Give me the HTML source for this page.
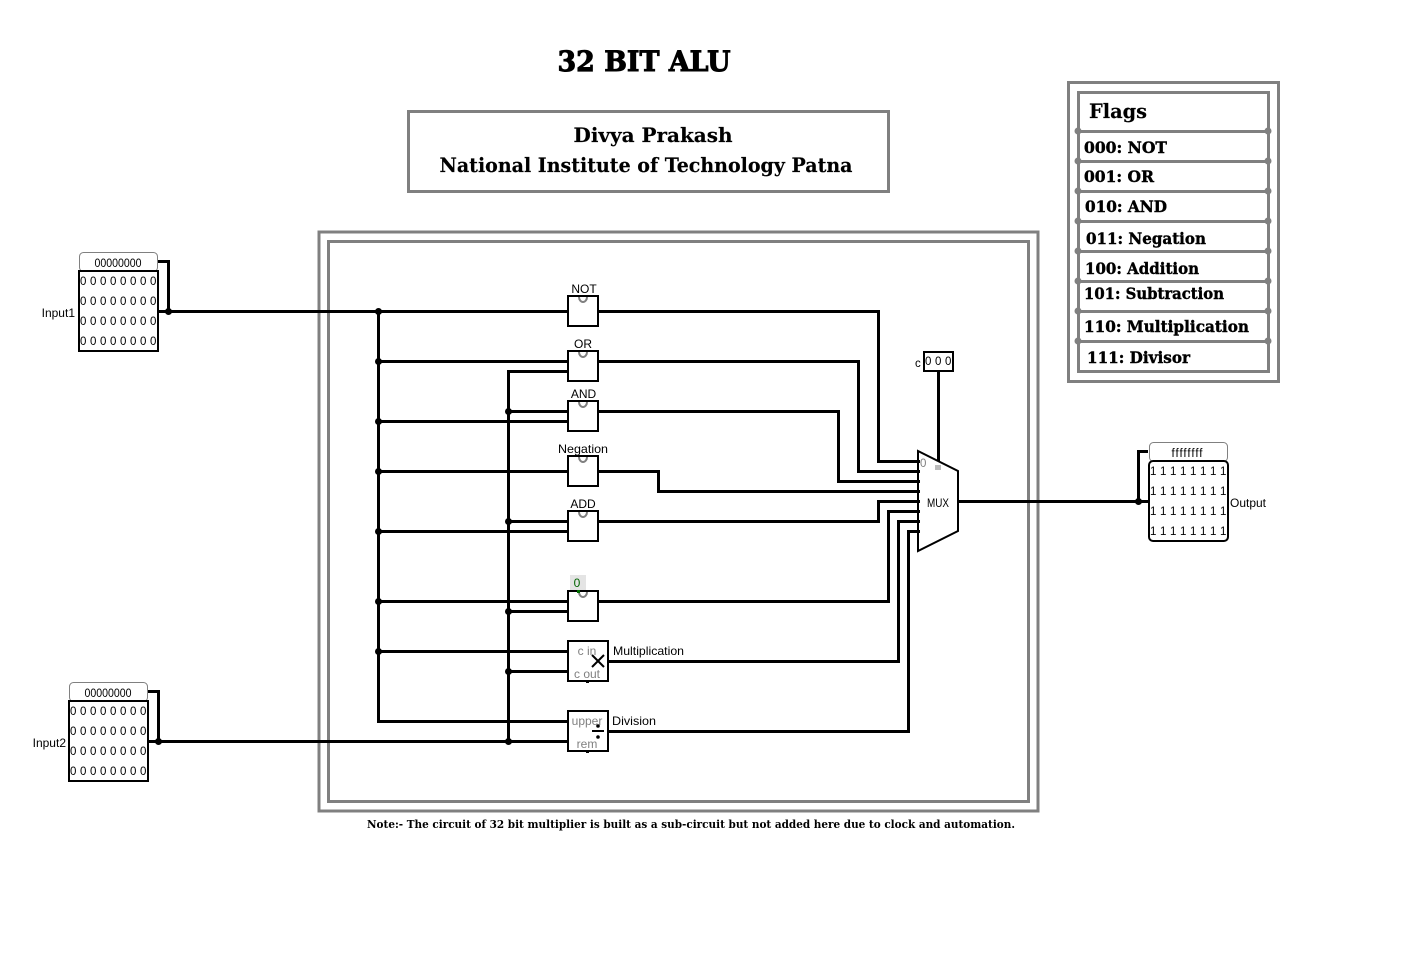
<!DOCTYPE html>
<html><head><meta charset="utf-8">
<style>
html,body{margin:0;padding:0;background:#fff;width:1411px;height:954px;overflow:hidden}
svg{display:block}
text{font-family:"Liberation Sans",sans-serif;fill:#000}
.s{font-family:"DejaVu Serif","Liberation Serif",serif;font-weight:bold}
.n{font-weight:bold;stroke:#000;stroke-width:.15}
.g{fill:#808080}
.l{font-size:12px}
.d{font-size:11.5px}
.w{fill:none;stroke:#000;stroke-width:3}
.f{fill:none;stroke:#808080;stroke-width:3}
.b{fill:#fff;stroke:#000;stroke-width:2}
.fl{font-size:15.5px;stroke:#000;stroke-width:.4}
</style></head><body>
<svg width="1411" height="954" viewBox="0 0 1411 954" xmlns="http://www.w3.org/2000/svg">
<rect width="1411" height="954" fill="#fff"/>

<text class="s" x="644" y="71" font-size="28" text-anchor="middle" textLength="173" lengthAdjust="spacingAndGlyphs" style="stroke:#000;stroke-width:1">32 BIT ALU</text>
<rect class="f" x="408.5" y="111.5" width="480" height="80"/>
<text class="s n" x="653" y="142" font-size="20" text-anchor="middle" textLength="159" lengthAdjust="spacingAndGlyphs">Divya Prakash</text>
<text class="s n" x="646" y="172" font-size="20" text-anchor="middle" textLength="413" lengthAdjust="spacingAndGlyphs">National Institute of Technology Patna</text>

<rect class="f" x="319" y="232" width="719" height="579"/>
<rect class="f" x="328.5" y="241.5" width="700" height="560"/>
<text class="s" x="691" y="828" font-size="11" text-anchor="middle" textLength="648" lengthAdjust="spacingAndGlyphs">Note:- The circuit of 32 bit multiplier is built as a sub-circuit but not added here due to clock and automation.</text>

<!-- Flags -->
<rect class="f" x="1068.5" y="82.5" width="210" height="299"/>
<rect class="f" x="1078.5" y="92.5" width="190" height="279"/>
<g stroke="#808080" stroke-width="3">
<line x1="1078" x2="1268" y1="131.5" y2="131.5"/><line x1="1078" x2="1268" y1="161.5" y2="161.5"/>
<line x1="1078" x2="1268" y1="191.5" y2="191.5"/><line x1="1078" x2="1268" y1="221.5" y2="221.5"/>
<line x1="1078" x2="1268" y1="251.5" y2="251.5"/><line x1="1078" x2="1268" y1="281.5" y2="281.5"/>
<line x1="1078" x2="1268" y1="311.5" y2="311.5"/><line x1="1078" x2="1268" y1="341.5" y2="341.5"/>
</g>
<g fill="#808080">
<circle cx="1078" cy="131" r="3.5"/><circle cx="1268" cy="131" r="3.5"/>
<circle cx="1078" cy="161" r="3.5"/><circle cx="1268" cy="161" r="3.5"/>
<circle cx="1078" cy="191" r="3.5"/><circle cx="1268" cy="191" r="3.5"/>
<circle cx="1078" cy="221" r="3.5"/><circle cx="1268" cy="221" r="3.5"/>
<circle cx="1078" cy="251" r="3.5"/><circle cx="1268" cy="251" r="3.5"/>
<circle cx="1078" cy="281" r="3.5"/><circle cx="1268" cy="281" r="3.5"/>
<circle cx="1078" cy="311" r="3.5"/><circle cx="1268" cy="311" r="3.5"/>
<circle cx="1078" cy="341" r="3.5"/><circle cx="1268" cy="341" r="3.5"/>
</g>
<text class="s n" x="1089" y="118" font-size="20" textLength="58" lengthAdjust="spacingAndGlyphs">Flags</text>
<text class="s fl" x="1084" y="153" textLength="83" lengthAdjust="spacingAndGlyphs">000: NOT</text>
<text class="s fl" x="1084" y="182" textLength="70" lengthAdjust="spacingAndGlyphs">001: OR</text>
<text class="s fl" x="1085" y="212" textLength="82" lengthAdjust="spacingAndGlyphs">010: AND</text>
<text class="s fl" x="1086" y="244" textLength="120" lengthAdjust="spacingAndGlyphs">011: Negation</text>
<text class="s fl" x="1085" y="274" textLength="114" lengthAdjust="spacingAndGlyphs">100: Addition</text>
<text class="s fl" x="1084" y="299" textLength="140" lengthAdjust="spacingAndGlyphs">101: Subtraction</text>
<text class="s fl" x="1084" y="332" textLength="165" lengthAdjust="spacingAndGlyphs">110: Multiplication</text>
<text class="s fl" x="1087" y="363" textLength="103" lengthAdjust="spacingAndGlyphs">111: Divisor</text>

<!-- Wires -->
<g class="w">
<path class="w" d="M158 261.5H168.5V311.5"/>
<path class="w" d="M158 311.5H568"/>
<path class="w" d="M148 691.5H158.5V741.5"/>
<path class="w" d="M148 741.5H568"/>
<path class="w" d="M378.5 311V721.5H568"/>
<path class="w" d="M568 371.5H508.5V741"/>
<path class="w" d="M378 361.5H568M378 421.5H568M378 471.5H568M378 531.5H568M378 601.5H568M378 651.5H568"/>
<path class="w" d="M508 411.5H568M508 521.5H568M508 611.5H568M508 671.5H568"/>
<path class="w" d="M598 311.5H878.5V461.5H918"/>
<path class="w" d="M598 361.5H858.5V471.5H918"/>
<path class="w" d="M598 411.5H838.5V481.5H918"/>
<path class="w" d="M598 471.5H658.5V491.5H918"/>
<path class="w" d="M598 521.5H878.5V501.5H918"/>
<path class="w" d="M598 601.5H888.5V511.5H918"/>
<path class="w" d="M608 661.5H898.5V521.5H918"/>
<path class="w" d="M608 731.5H908.5V531.5H918"/>
<path class="w" d="M958 501.5H1148"/>
<path class="w" d="M1148 451.5H1138.5V501.5"/>
<path class="w" d="M938.5 371V462"/>
</g>
<g fill="#000">
<circle cx="168.5" cy="311.5" r="3.5"/><circle cx="158.5" cy="741.5" r="3.5"/><circle cx="1138.5" cy="501.5" r="3.5"/>
<circle cx="378.5" cy="311.5" r="3.5"/><circle cx="378.5" cy="361.5" r="3.5"/><circle cx="378.5" cy="421.5" r="3.5"/>
<circle cx="378.5" cy="471.5" r="3.5"/><circle cx="378.5" cy="531.5" r="3.5"/><circle cx="378.5" cy="601.5" r="3.5"/>
<circle cx="378.5" cy="651.5" r="3.5"/>
<circle cx="508.5" cy="411.5" r="3.5"/><circle cx="508.5" cy="521.5" r="3.5"/><circle cx="508.5" cy="611.5" r="3.5"/>
<circle cx="508.5" cy="671.5" r="3.5"/><circle cx="508.5" cy="741.5" r="3.5"/>
</g>

<!-- Gates -->
<g>
<rect class="b" x="568" y="296" width="30" height="30"/>
<rect class="b" x="568" y="351" width="30" height="30"/>
<rect class="b" x="568" y="401" width="30" height="30"/>
<rect class="b" x="568" y="456" width="30" height="30"/>
<rect class="b" x="568" y="511" width="30" height="30"/>
<rect class="b" x="568" y="591" width="30" height="30"/>
<rect class="b" x="568" y="641" width="40" height="40"/>
<rect class="b" x="568" y="711" width="40" height="40"/>
</g>
<g fill="none" stroke="#808080" stroke-width="2">
<path d="M579 297a4 5 0 0 0 8 0"/><path d="M579 352a4 5 0 0 0 8 0"/><path d="M579 402a4 5 0 0 0 8 0"/>
<path d="M579 457a4 5 0 0 0 8 0"/><path d="M579 512a4 5 0 0 0 8 0"/><path d="M579 592a4 5 0 0 0 8 0"/>
</g>
<rect x="570" y="575" width="16" height="15" fill="#e4e4e4"/>
<rect x="577" y="590" width="3" height="3" fill="#007000"/>
<text class="l" x="577" y="587" text-anchor="middle" style="fill:#006400">0</text>
<text class="l" x="584" y="293" text-anchor="middle">NOT</text>
<text class="l" x="583" y="348" text-anchor="middle">OR</text>
<text class="l" x="583.5" y="398" text-anchor="middle">AND</text>
<text class="l" x="583" y="453" text-anchor="middle" textLength="50" lengthAdjust="spacingAndGlyphs">Negation</text>
<text class="l" x="583" y="508" text-anchor="middle">ADD</text>
<text class="l" x="613" y="655" textLength="71" lengthAdjust="spacingAndGlyphs">Multiplication</text>
<text class="l" x="612" y="725" textLength="44" lengthAdjust="spacingAndGlyphs">Division</text>

<text class="l g" x="587" y="655" text-anchor="middle" font-size="11">c in</text>
<text class="l g" x="587" y="678" text-anchor="middle" font-size="11">c out</text>
<text class="l g" x="587" y="725" text-anchor="middle" font-size="11">upper</text>
<text class="l g" x="587" y="748" text-anchor="middle" font-size="11">rem</text>
<path d="M592 655L604 667M604 655L592 667" stroke="#000" stroke-width="2" fill="none"/>
<path d="M592 731H604" stroke="#000" stroke-width="2"/>
<circle cx="598" cy="726" r="1.8"/><circle cx="598" cy="737" r="1.8"/>
<g fill="#000">
<rect x="586" y="640" width="3" height="2"/><rect x="586" y="681" width="3" height="2"/>
<rect x="586" y="710" width="3" height="2"/><rect x="586" y="751" width="3" height="2"/>
</g>

<!-- Input 1 -->
<rect x="79.5" y="252.5" width="78" height="19" rx="4" fill="#fff" stroke="#808080" stroke-width="1"/>
<text class="d" x="118" y="267" text-anchor="middle" textLength="47" lengthAdjust="spacingAndGlyphs">00000000</text>
<rect class="b" x="79" y="271" width="79" height="80"/>
<g class="d">
<text x="80 90 100 110 120 130 140 150" y="285">00000000</text>
<text x="80 90 100 110 120 130 140 150" y="305">00000000</text>
<text x="80 90 100 110 120 130 140 150" y="325">00000000</text>
<text x="80 90 100 110 120 130 140 150" y="345">00000000</text>
</g>
<text class="l" x="75" y="317" text-anchor="end">Input1</text>

<!-- Input 2 -->
<rect x="69.5" y="682.5" width="78" height="19" rx="4" fill="#fff" stroke="#808080" stroke-width="1"/>
<text class="d" x="108" y="697" text-anchor="middle" textLength="47" lengthAdjust="spacingAndGlyphs">00000000</text>
<rect class="b" x="69" y="701" width="79" height="80"/>
<g class="d">
<text x="70 80 90 100 110 120 130 140" y="715">00000000</text>
<text x="70 80 90 100 110 120 130 140" y="735">00000000</text>
<text x="70 80 90 100 110 120 130 140" y="755">00000000</text>
<text x="70 80 90 100 110 120 130 140" y="775">00000000</text>
</g>
<text class="l" x="66" y="747" text-anchor="end">Input2</text>

<!-- Output -->
<rect x="1149.5" y="442.5" width="78" height="19" rx="4" fill="#fff" stroke="#808080" stroke-width="1"/>
<text class="d" x="1187" y="457" text-anchor="middle" textLength="31">ffffffff</text>
<rect class="b" x="1149" y="461" width="79" height="80" rx="4"/>
<g class="d">
<text x="1150 1160 1170 1180 1190 1200 1210 1220" y="475">11111111</text>
<text x="1150 1160 1170 1180 1190 1200 1210 1220" y="495">11111111</text>
<text x="1150 1160 1170 1180 1190 1200 1210 1220" y="515">11111111</text>
<text x="1150 1160 1170 1180 1190 1200 1210 1220" y="535">11111111</text>
</g>
<text class="l" x="1230" y="507" textLength="36" lengthAdjust="spacingAndGlyphs">Output</text>

<!-- Select -->
<rect class="b" x="924" y="352" width="29" height="19"/>
<text class="d" x="925 935 945" y="365">000</text>
<text class="d" x="915" y="367">c</text>

<!-- MUX -->
<polygon points="918,451 958,471 958,531 918,551" fill="#fff" stroke="#000" stroke-width="2"/>
<text class="d" x="938" y="507" text-anchor="middle" font-size="11" textLength="22" lengthAdjust="spacingAndGlyphs">MUX</text>
<text class="d g" x="920" y="467" font-size="11">0</text>
<rect x="935" y="465" width="6" height="5" fill="#bbb"/>
<g stroke="#000" stroke-width="3">
<line x1="915" x2="920" y1="461.5" y2="461.5"/><line x1="915" x2="920" y1="471.5" y2="471.5"/>
<line x1="915" x2="920" y1="481.5" y2="481.5"/><line x1="915" x2="920" y1="491.5" y2="491.5"/>
<line x1="915" x2="920" y1="501.5" y2="501.5"/><line x1="915" x2="920" y1="511.5" y2="511.5"/>
<line x1="915" x2="920" y1="521.5" y2="521.5"/><line x1="915" x2="920" y1="531.5" y2="531.5"/>
</g>
</svg>
</body></html>
